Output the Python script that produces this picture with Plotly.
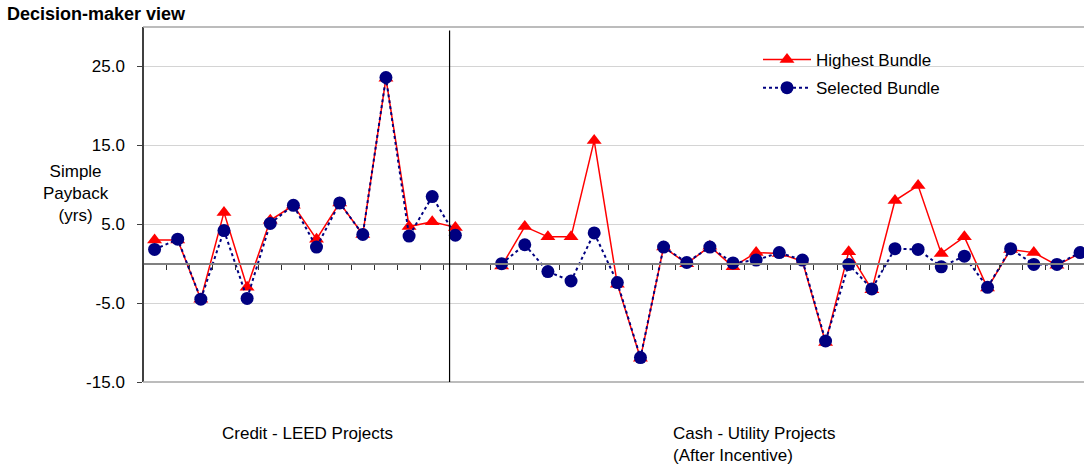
import plotly.graph_objects as go

# ---- data ----
positions = list(range(41))  # category slots (slot 14 is an empty separator)
highest_bundle = [3.0, 3.0, -4.5, 6.5, -3.0, 5.5, 7.4, 3.1, 7.7, 3.7, 23.5, 4.7, 5.3, 4.6,
                  None,
                  -0.3, 4.7, 3.4, 3.4, 15.6, -2.6, -12.0, 2.1, 0.0, 2.2, -0.4, 1.4, 1.3,
                  0.3, -10.0, 1.5, -3.3, 8.0, 9.9, 1.3, 3.4, -3.1, 1.8, 1.4, -0.2, 1.3]
selected_bundle = [1.8, 3.1, -4.5, 4.2, -4.4, 5.1, 7.4, 2.1, 7.7, 3.7, 23.6, 3.5, 8.5, 3.6,
                   None,
                   0.0, 2.4, -1.0, -2.2, 3.9, -2.4, -11.9, 2.1, 0.15, 2.1, 0.1, 0.45, 1.4,
                   0.45, -9.8, -0.1, -3.2, 1.9, 1.8, -0.4, 0.95, -3.0, 1.9, -0.1, -0.1, 1.4]
y_ticks = [-15, -5, 5, 15, 25]
group_labels = ["Credit - LEED Projects", "Cash - Utility Projects<br>(After Incentive)"]
divider_pos = 12.75

FONT = "Arial, Liberation Sans, sans-serif"
FS = 17
W, H = 1084, 468
L, R, T, B = 143, 0, 27, 86
pw, ph = W - L - R, H - T - B

def px_x(x):
    return (x - L) / pw

def px_y(y):
    return (H - B - y) / ph

fig = go.Figure()
fig.add_trace(go.Scatter(
    x=positions, y=highest_bundle, name="Highest Bundle", mode="lines+markers",
    line=dict(color="#FF0000", width=1.5),
    marker=dict(symbol="triangle-up", size=13, color="#FF0000"),
    connectgaps=False, cliponaxis=False, legendgroup="a"))
fig.add_trace(go.Scatter(
    x=positions, y=selected_bundle, name="Selected Bundle", mode="lines+markers",
    line=dict(color="#000080", width=2, dash="dot"),
    marker=dict(symbol="circle", size=13, color="#000080"),
    connectgaps=False, cliponaxis=False, legendgroup="b"))

fig.update_layout(
    width=W, height=H,
    margin=dict(l=L, r=R, t=T, b=B, pad=0, autoexpand=False),
    paper_bgcolor="white", plot_bgcolor="white",
    font=dict(family=FONT, size=FS, color="black"),
    showlegend=True,
    legend=dict(x=px_x(758), y=px_y(42), xanchor="left", yanchor="top",
                bgcolor="rgba(0,0,0,0)", font=dict(size=FS), tracegroupgap=3,
                itemwidth=48),
    xaxis=dict(range=[-0.5, 40.17], anchor="free", position=1/3,
               showline=True, linecolor="#808080", linewidth=2,
               ticks="outside", ticklen=5, tickcolor="#303030", tickwidth=1,
               tickvals=[i + 0.5 for i in range(-1, 41)],
               showticklabels=False, showgrid=False, zeroline=False),
    yaxis=dict(range=[-15, 30], anchor="free", position=0,
               tickvals=y_ticks, ticktext=[f"{v:.1f}" for v in y_ticks],
               showgrid=True, gridcolor="#D4D4D4", gridwidth=1,
               showline=True, linecolor="#404040", linewidth=1.5,
               ticks="outside", ticklen=5, tickcolor="#404040",
               ticklabelstandoff=9,
               zeroline=False, tickfont=dict(size=FS)),
)

shapes = [
    # white patch behind legend (hides gridline)
    dict(type="rect", xref="paper", yref="paper", x0=px_x(675), x1=px_x(1037),
         y0=px_y(110), y1=px_y(36), fillcolor="white", line=dict(width=0), layer="between"),
    # top and bottom frame
    dict(type="line", xref="paper", yref="paper", x0=0, x1=1, y0=1, y1=1,
         line=dict(color="#A6A6A6", width=1.5)),
    dict(type="line", xref="paper", yref="paper", x0=0, x1=1, y0=0, y1=0,
         line=dict(color="#A6A6A6", width=1.5)),
    # divider between project groups
    dict(type="line", xref="x", yref="paper", x0=divider_pos, x1=divider_pos, y0=0, y1=0.99,
         line=dict(color="black", width=1.2)),
]
fig.update_layout(shapes=shapes)

annotations = [
    dict(text="<b>Decision-maker view</b>", xref="paper", yref="paper",
         x=px_x(5), y=px_y(14), xanchor="left", yanchor="middle", showarrow=False,
         font=dict(size=18)),
    dict(text="Simple<br>Payback<br>(yrs)", xref="paper", yref="paper",
         x=px_x(76), y=px_y(193), xanchor="center", yanchor="middle", showarrow=False,
         align="center", font=dict(size=FS)),
    dict(text=group_labels[0], xref="paper", yref="paper",
         x=px_x(307), y=px_y(433), xanchor="center", yanchor="middle", showarrow=False,
         font=dict(size=FS)),
    dict(text=group_labels[1], xref="paper", yref="paper",
         x=px_x(671), y=px_y(444), xanchor="left", yanchor="middle", showarrow=False,
         align="left", font=dict(size=FS)),
]
fig.update_layout(annotations=annotations)

fig.write_html("out.html", config={"displayModeBar": False},
               post_script="document.body.style.margin='0';document.body.style.overflow='hidden';")
